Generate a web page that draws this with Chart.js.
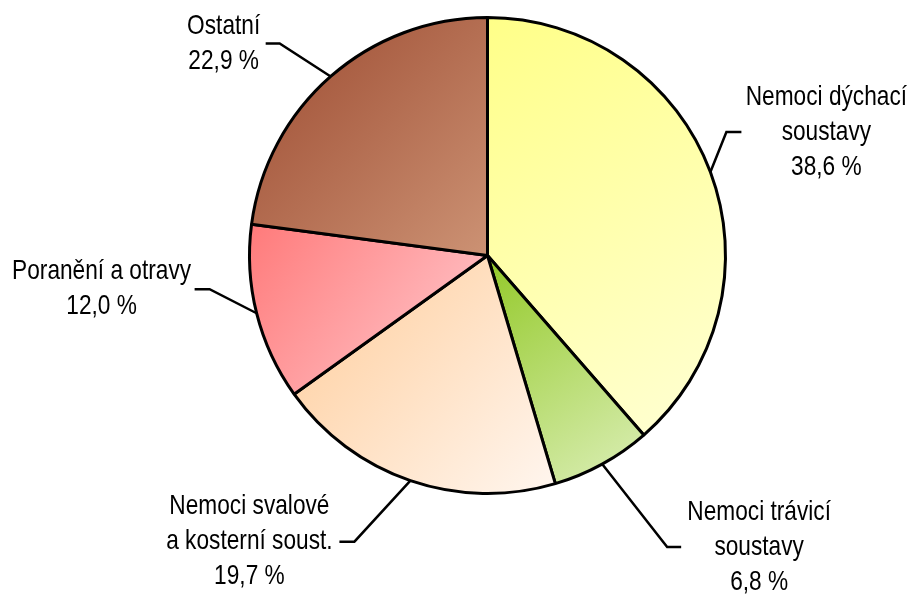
<!DOCTYPE html>
<html>
<head>
<meta charset="utf-8">
<script src="https://cdn.jsdelivr.net/npm/chart.js@4/dist/chart.umd.min.js"></script>
<style>
  body { margin: 0; background: #fff; }
  #wrap { width: 914px; height: 596px; position: relative; }
</style>
</head>
<body>
<div id="wrap"><canvas id="pie"></canvas></div>
<script>
// data
const categories = [
    ['Nemoci dýchací', 'soustavy'],
    ['Nemoci trávicí', 'soustavy'],
    ['Nemoci svalové', 'a kosterní soust.'],
    ['Poranění a otravy'],
    ['Ostatní']
];
const values = [38.6, 6.8, 19.7, 12.0, 22.9];

// gradient colours per slice (top-left -> bottom-right)
const colorsFrom = ['#ffff88', '#93c928', '#ffcc99', '#ff7a7a', '#9c4a30'];
const colorsTo   = ['#ffffd4', '#dcefb8', '#fff6ef', '#ffcdd2', '#cc9274'];

// label placement: elbow offset from the slice edge, tail length, text centre from tail end
const labelLayout = [
    { ex: 16,  ey: -40, tail: 15,  tx: 85 },
    { ex: 65,  ey: 83,  tail: 14,  tx: 78 },
    { ex: -56, ey: 61,  tail: -15, tx: -90 },
    { ex: -47, ey: -24, tail: -15, tx: -93 },
    { ex: -51, ey: -33, tail: -14, tx: -42 }
];

// Arial Narrow look: Liberation Sans squeezed horizontally
const FONT = "28px 'Liberation Sans', Arial, sans-serif";
const NARROW = 0.81;
const LINE_H = 35;

function fmt(v) {
    return v.toFixed(1).replace('.', ',') + ' %';
}

const gradientPlugin = {
    id: 'sliceGradient',
    beforeDatasetsDraw(chart) {
        const ctx = chart.ctx;
        chart.getDatasetMeta(0).data.forEach(function(arc, i) {
            const p = arc.getProps(['x', 'y', 'startAngle', 'endAngle', 'outerRadius'], true);
            let minX = p.x, maxX = p.x, minY = p.y, maxY = p.y;
            for (let k = 0; k <= 40; k++) {
                const a = p.startAngle + (p.endAngle - p.startAngle) * k / 40;
                const px = p.x + Math.cos(a) * p.outerRadius;
                const py = p.y + Math.sin(a) * p.outerRadius;
                minX = Math.min(minX, px); maxX = Math.max(maxX, px);
                minY = Math.min(minY, py); maxY = Math.max(maxY, py);
            }
            const g = ctx.createLinearGradient(minX, minY, maxX, maxY);
            g.addColorStop(0, colorsFrom[i]);
            g.addColorStop(1, colorsTo[i]);
            arc.options.backgroundColor = g;
        });
    }
};

const labelPlugin = {
    id: 'leaderLabels',
    afterDatasetsDraw(chart) {
        const ctx = chart.ctx;
        ctx.save();
        ctx.strokeStyle = '#000';
        ctx.lineWidth = 2.5;
        ctx.fillStyle = '#000';
        ctx.font = FONT;
        ctx.textAlign = 'center';
        ctx.textBaseline = 'middle';
        chart.getDatasetMeta(0).data.forEach(function(arc, i) {
            const p = arc.getProps(['x', 'y', 'startAngle', 'endAngle', 'outerRadius'], true);
            const mid = (p.startAngle + p.endAngle) / 2;
            const ax = p.x + Math.cos(mid) * p.outerRadius;
            const ay = p.y + Math.sin(mid) * p.outerRadius;
            const L = labelLayout[i];
            const bx = ax + L.ex, by = ay + L.ey;
            const cx = bx + L.tail;
            ctx.beginPath();
            ctx.moveTo(ax, ay);
            ctx.lineTo(bx, by);
            ctx.lineTo(cx, by);
            ctx.stroke();
            const lines = categories[i].concat([fmt(values[i])]);
            const top = by - (lines.length - 1) * LINE_H / 2;
            lines.forEach(function(t, j) {
                ctx.save();
                ctx.translate(cx + L.tx, top + j * LINE_H);
                ctx.scale(NARROW, 1);
                ctx.fillText(t, 0, 0);
                ctx.restore();
            });
        });
        ctx.restore();
    }
};

new Chart(document.getElementById('pie'), {
    type: 'pie',
    data: {
        labels: categories.map(c => c.join(' ')),
        datasets: [{
            data: values,
            backgroundColor: colorsFrom,
            borderColor: '#000',
            borderWidth: 3,
            hoverOffset: 0
        }]
    },
    options: {
        responsive: true,
        maintainAspectRatio: false,
        animation: false,
        layout: { padding: { top: 16, bottom: 101, left: 248, right: 187 } },
        plugins: {
            legend: { display: false },
            tooltip: { enabled: false }
        },
        events: []
    },
    plugins: [gradientPlugin, labelPlugin]
});
</script>
</body>
</html>
